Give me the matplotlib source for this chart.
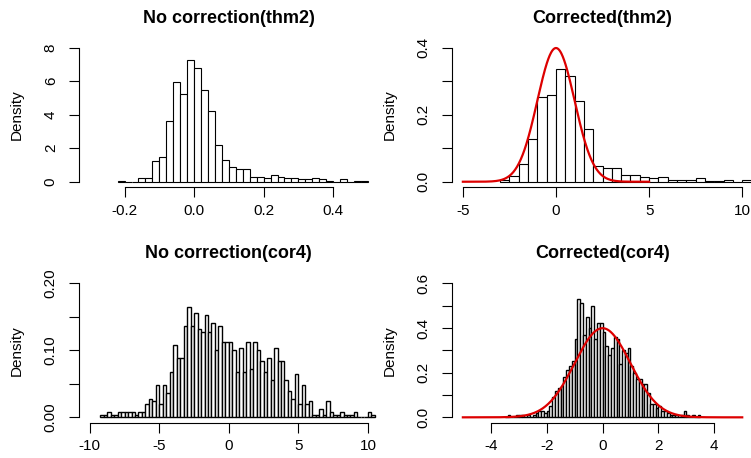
import numpy as np
import matplotlib.pyplot as plt

plt.rcParams['font.family'] = ['Liberation Sans', 'DejaVu Sans']

# histogram densities (bin start, bin width, heights)
thm2_raw_start, thm2_raw_width = -0.22, 0.02
thm2_raw = [0.05, 0, 0, 0.2, 0.2, 1.25, 1.5, 3.6, 5.95, 5.25, 7.25, 6.8, 5.45, 4.2,
            2.2, 1.3, 0.9, 0.75, 0.75, 0.3, 0.3, 0.2, 0.4, 0.3, 0.2, 0.2, 0.15, 0.15,
            0.2, 0.15, 0.05, 0, 0.15, 0, 0.05, 0.05]

thm2_cor_start, thm2_cor_width = -3.0, 0.5
thm2_cor = [0.004, 0.016, 0.054, 0.128, 0.254, 0.258, 0.336, 0.316, 0.242, 0.158,
            0.048, 0.042, 0.040, 0.020, 0.020, 0.014, 0.010, 0.014, 0.006, 0.006,
            0.006, 0.010, 0.002, 0.002, 0.006, 0.0, 0.006]

cor4_raw_start, cor4_raw_width = -9.25, 0.25
cor4_raw = [0.004, 0.004, 0.008, 0.004, 0.004, 0.008, 0.008, 0.008, 0.008, 0.008,
            0.004, 0.008, 0.008, 0.020, 0.028, 0.024, 0.048, 0.020, 0.048, 0.036,
            0.068, 0.108, 0.088, 0.088, 0.136, 0.164, 0.136, 0.156, 0.132, 0.128,
            0.152, 0.128, 0.140, 0.100, 0.136, 0.112, 0.112,
            0.112, 0.100, 0.068, 0.104, 0.068, 0.112, 0.072, 0.112, 0.100, 0.084,
            0.068, 0.088, 0.056, 0.104, 0.084, 0.084, 0.056, 0.040, 0.028, 0.064,
            0.020, 0.048, 0.020, 0.024, 0.004, 0.004, 0.012, 0.004, 0.024, 0.008,
            0.004, 0.004, 0.008, 0.004, 0.004, 0.004, 0.008, 0.0, 0.0, 0.0,
            0.008, 0.004]

cor4_cor_start, cor4_cor_width = -3.5, 0.1
cor4_cor = [0, 0.01, 0, 0, 0.01, 0.01, 0.01, 0, 0.01, 0, 0.01, 0.02, 0.03, 0.03, 0.02,
            0.03, 0.05, 0.09, 0.12, 0.13, 0.14, 0.18, 0.21, 0.23, 0.25,
            0.35, 0.53, 0.51, 0.37, 0.45, 0.40, 0.50, 0.35, 0.42, 0.42,
            0.38, 0.32, 0.28, 0.31, 0.36, 0.35, 0.24, 0.30, 0.29, 0.31,
            0.23, 0.20, 0.17, 0.17, 0.15, 0.15, 0.11, 0.06, 0.06, 0.04,
            0.05, 0.03, 0.03, 0.02, 0.01, 0.01, 0.01, 0.0, 0.01, 0.03, 0.01, 0, 0.01, 0, 0.01]

titles = ['No correction(thm2)', 'Corrected(thm2)', 'No correction(cor4)', 'Corrected(cor4)']
xlims = [(-0.3, 0.5), (-5, 10), (-10, 10), (-5, 5)]
ylims = [8, 0.4, 0.2, 0.6]
xticks = [[-0.2, 0.0, 0.2, 0.4], [-5, 0, 5, 10], [-10, -5, 0, 5, 10], [-4, -2, 0, 2, 4]]
yticks = [[0, 2, 4, 6, 8],
          [0.0, 0.1, 0.2, 0.3, 0.4],
          [0.0, 0.05, 0.10, 0.15, 0.20],
          [0.0, 0.1, 0.2, 0.3, 0.4, 0.5, 0.6]]
# only every other tick gets a label on the crowded axes
ylabel_step = [1, 2, 2, 2]
xfmt = ['%.1f', '%d', '%d', '%d']
yfmt = ['%d', '%.1f', '%.2f', '%.1f']
hists = [(thm2_raw_start, thm2_raw_width, thm2_raw),
         (thm2_cor_start, thm2_cor_width, thm2_cor),
         (cor4_raw_start, cor4_raw_width, cor4_raw),
         (cor4_cor_start, cor4_cor_width, cor4_cor)]
bar_lw = [0.8, 0.8, 1.0, 1.0]
show_normal = [False, True, False, True]
normal_range = (-5, 5)

W, H = 751, 458
fig = plt.figure(figsize=(W / 100, H / 100), dpi=100)

# plot regions in pixels: (left, top, right, bottom)
regions = [(78.7, 42.3, 379.0, 187.1), (451.7, 42.3, 753.4, 187.1),
           (78.7, 277.9, 379.0, 422.7), (451.7, 277.9, 753.4, 422.7)]

for i in range(4):
    l, t, r, b = regions[i]
    ax = fig.add_axes([l / W, 1 - b / H, (r - l) / W, (b - t) / H])
    start, width, dens = hists[i]
    dens = np.array(dens, dtype=float)
    lefts = start + width * np.arange(len(dens))
    ax.bar(lefts, dens, width=width, align='edge', color='white',
           edgecolor='black', linewidth=bar_lw[i])
    if show_normal[i]:
        xs = np.linspace(normal_range[0], normal_range[1], 400)
        ax.plot(xs, np.exp(-xs ** 2 / 2) / np.sqrt(2 * np.pi), color='#dd0000', lw=1.6)

    x0, x1 = xlims[i]
    pad = 0.04 * (x1 - x0)
    ax.set_xlim(x0 - pad, x1 + pad)
    ytop = ylims[i]
    ax.set_ylim(-0.04 * ytop, 1.04 * ytop)

    ax.set_xticks(xticks[i])
    ax.set_xticklabels([xfmt[i] % v for v in xticks[i]])
    ax.set_yticks(yticks[i])
    ylabs = [yfmt[i] % v if k % ylabel_step[i] == 0 else ''
             for k, v in enumerate(yticks[i])]
    ax.set_yticklabels(ylabs, rotation=90, va='center')
    ax.tick_params(direction='out', length=7, width=0.8, labelsize=11)
    ax.tick_params(axis='x', pad=5)
    ax.tick_params(axis='y', pad=8)
    for s in ['top', 'right']:
        ax.spines[s].set_visible(False)
    ax.spines['left'].set_bounds(0, ytop)
    ax.spines['bottom'].set_bounds(xticks[i][0], xticks[i][-1])
    ax.spines['left'].set_linewidth(0.8)
    ax.spines['bottom'].set_linewidth(0.8)
    ax.set_title(titles[i], fontsize=13, fontweight='bold', pad=14)

    fig.text((l - 62.3) / W, 1 - (t + b) / 2 / H, 'Density', rotation=90,
             ha='center', va='center', fontsize=11)

fig.savefig('out.png', dpi=100)
